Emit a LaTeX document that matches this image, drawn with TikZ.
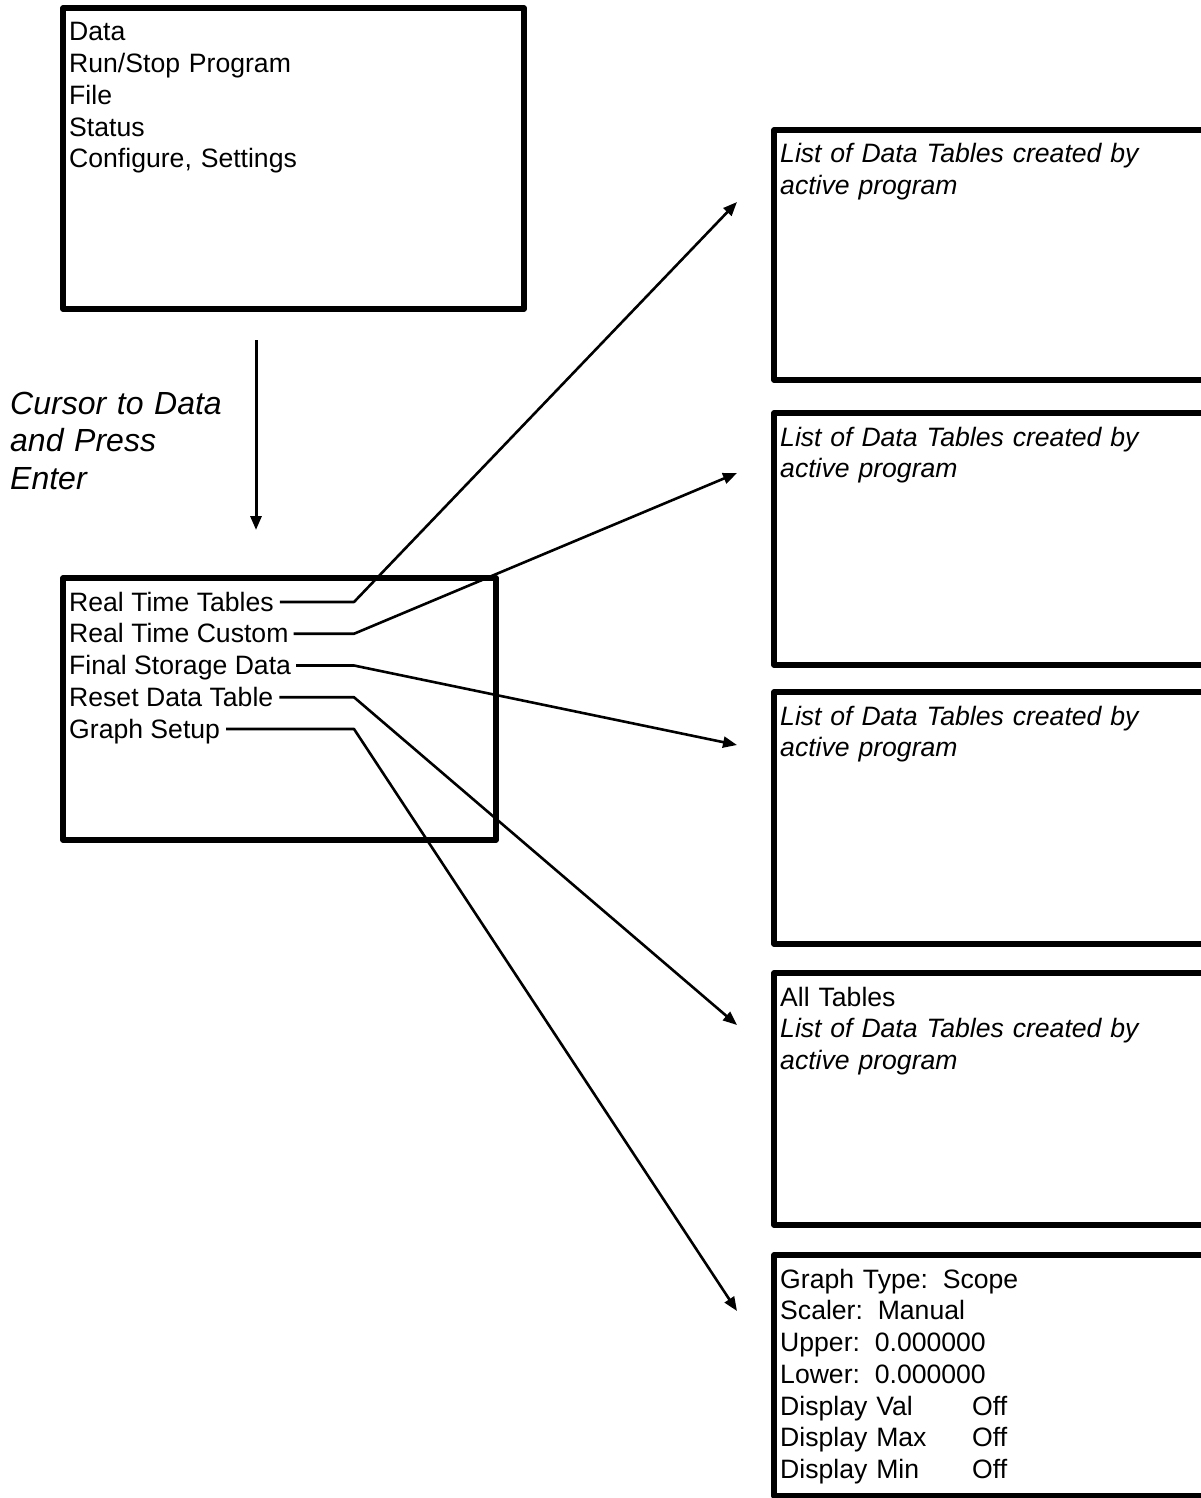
\documentclass[tikz,border=0pt]{standalone}
\usepackage{fontspec}
\setmainfont{Liberation Sans}
\usetikzlibrary{arrows.meta}
\begin{document}
\begin{tikzpicture}[x=1pt,y=-1pt,
  screen/.style={draw=black,line width=5.2pt,line join=round},
  menutext/.style={anchor=base west,inner sep=0pt,font=\fontsize{26.6}{31.75}\selectfont,
    text width=420pt,align=left},
  item/.style={anchor=base west,inner sep=0pt,font=\fontsize{26.6}{31.75}\selectfont,
    text height=18pt,text depth=0pt},
  hint/.style={anchor=base west,inner sep=0pt,font=\fontsize{32}{37.5}\selectfont\itshape,
    text width=260pt,align=left},
  link/.style={line width=2.6pt,line join=round,-{Triangle[length=14pt,width=11pt]}},
  col/.style={}
]
\path[use as bounding box,clip] (0,0) rectangle (1201,1498);

% main menu screen
\draw[screen] (63,8) rectangle (524,309);
\node[menutext] (mainmenu) at (69,41) {Data\\Run/Stop Program\\File\\Status\\Configure, Settings};

% step hint and arrow down to the data menu
\node[hint] (hint) at (10,414) {Cursor to Data\\and Press\\Enter};
\coordinate (down0) at (256,340);
\coordinate (down1) at (256,530);
\draw[link,line width=3pt] (down0) -- (down1);

% data menu screen
\draw[screen] (63,578) rectangle (496,840);
\node[item] (rtt) at (69,611)    {Real Time Tables};
\node[item] (rtc) at (69,642.75) {Real Time Custom};
\node[item] (fsd) at (69,674.5)  {Final Storage Data};
\node[item] (rdt) at (69,706.25) {Reset Data Table};
\node[item] (gs)  at (69,738)    {Graph Setup};

% sub-screens on the right
\draw[screen] (774,130)  rectangle (1240,380);
\draw[screen] (774,413)  rectangle (1240,665);
\draw[screen] (774,692)  rectangle (1240,944);
\draw[screen] (774,973)  rectangle (1240,1225);
\draw[screen] (774,1255) rectangle (1240,1496);

\node[menutext] (list1) at (780,163) {\itshape List of Data Tables created by\\active program};
\node[menutext] (list2) at (780,446) {\itshape List of Data Tables created by\\active program};
\node[menutext] (list3) at (780,725) {\itshape List of Data Tables created by\\active program};
\node[menutext] (list4) at (780,1006) {All Tables\\\itshape List of Data Tables created by\\active program};
\node[menutext] (graph) at (780,1288) {Graph Type:\hspace{14.8pt}Scope\\
  Scaler:\hspace{14.8pt}Manual\\
  Upper:\hspace{14.8pt}0.000000\\
  Lower:\hspace{14.8pt}0.000000\\
  \makebox[192pt][l]{Display Val}Off\\
  \makebox[192pt][l]{Display Max}Off\\
  \makebox[192pt][l]{Display Min}Off};

% arrow targets beside the sub-screens
\coordinate (bend) at (354,0);
\coordinate (t1) at (737,202);
\coordinate (t2) at (737,473);
\coordinate (t3) at (737,745);
\coordinate (t4) at (737,1025);
\coordinate (t5) at (737,1311);

\draw[link] ([xshift=6pt]rtt.east) -- (rtt.east -| bend) -- (t1);
\draw[link] ([xshift=5pt]rtc.east) -- (rtc.east -| bend) -- (t2);
\draw[link] ([xshift=5pt]fsd.east) -- (fsd.east -| bend) -- (t3);
\draw[link] ([xshift=6pt]rdt.east) -- (rdt.east -| bend) -- (t4);
\draw[link] ([xshift=6pt]gs.east)  -- (gs.east -| bend)  -- (t5);
\end{tikzpicture}
\end{document}
